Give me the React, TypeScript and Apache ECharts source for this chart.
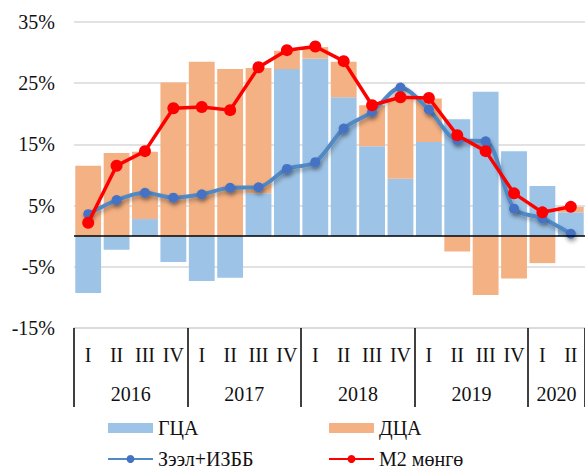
import React, { useEffect, useRef } from "react";
import * as echarts from "echarts";

const quarters = ["I", "II", "III", "IV", "I", "II", "III", "IV", "I", "II", "III", "IV", "I", "II", "III", "IV", "I", "II"];
const years = ["2016", "2017", "2018", "2019", "2020"];
const quartersPerYear = [4, 4, 4, 4, 2];

const gca = [-9.3, -2.2, 2.8, -4.2, -7.3, -6.8, 7.0, 27.3, 29.0, 22.7, 14.7, 9.4, 15.4, 19.1, 23.6, 13.9, 8.2, 3.9];
const dca = [11.5, 13.6, 11.0, 25.1, 28.5, 27.3, 20.5, 3.0, 1.9, 5.8, 6.7, 13.1, 7.1, -2.5, -9.6, -6.9, -4.4, 0.9];
const zeel = [3.6, 5.9, 7.1, 6.3, 6.85, 7.9, 8.0, 11.0, 12.1, 17.6, 20.3, 24.3, 20.7, 15.7, 15.5, 4.5, 2.9, 0.4];
const m2 = [2.2, 11.5, 13.9, 20.9, 21.1, 20.6, 27.6, 30.4, 31.0, 28.6, 21.4, 22.7, 22.6, 16.5, 13.9, 7.0, 3.9, 4.8];

const yTicks = [-15, -5, 5, 15, 25, 35];

const FONT = "Liberation Serif";

export default function App() {
  const ref = useRef<HTMLDivElement>(null);
  useEffect(() => {
    document.body.style.margin = "0";
    if (!ref.current) return;
    const chart = echarts.init(ref.current, undefined, { renderer: "svg" });

    const bounds: number[] = [0];
    const centers: number[] = [];
    quartersPerYear.forEach((n) => {
      const start = bounds[bounds.length - 1];
      centers.push(start + n / 2);
      bounds.push(start + n);
    });

    const legendBase = {
      orient: "vertical",
      top: 418,
      height: 52,
      padding: 0,
      itemWidth: 45,
      itemHeight: 10,
      itemGap: 11,
      textStyle: { fontFamily: FONT, fontSize: 20, color: "#111" },
    };

    chart.setOption({
      animation: false,
      textStyle: { fontFamily: FONT },
      grid: { left: 74, right: -2, top: 22, height: 306, containLabel: false },
      legend: [
        { ...legendBase, left: 107, data: [{ name: "ГЦА", icon: "rect" }, { name: "Зээл+ИЗББ" }] },
        { ...legendBase, left: 328, data: [{ name: "ДЦА", icon: "rect" }, { name: "M2 мөнгө" }] },
      ],
      xAxis: [
        {
          type: "category",
          data: quarters,
          position: "bottom",
          axisLine: { show: false },
          axisTick: { show: false },
          axisLabel: { fontFamily: FONT, fontSize: 20, color: "#111", margin: 17, interval: 0 },
          splitLine: { show: false },
        },
        {
          type: "value",
          min: 0,
          max: bounds[bounds.length - 1],
          position: "bottom",
          axisLine: { show: true, lineStyle: { color: "#d9d9d9", width: 1.5 } },
          axisTick: {
            show: true,
            customValues: bounds,
            length: 79,
            lineStyle: { color: "#000", width: 1.5 },
          },
          axisLabel: {
            customValues: centers,
            fontFamily: FONT,
            fontSize: 20,
            color: "#111",
            margin: 56,
            formatter: (v: number) => {
              const i = centers.findIndex((c) => Math.abs(c - v) < 1e-6);
              return i >= 0 ? years[i] : "";
            },
          },
          splitLine: { show: false },
        },
      ],
      yAxis: {
        type: "value",
        min: yTicks[0],
        max: yTicks[yTicks.length - 1],
        interval: 10,
        axisLine: { show: false },
        axisTick: { show: false },
        axisLabel: {
          formatter: (v: number) => v + "%",
          fontFamily: FONT,
          fontSize: 20,
          color: "#111",
          margin: 19,
        },
        splitLine: { show: true, lineStyle: { color: "#d9d9d9", width: 1.5 } },
      },
      series: [
        {
          name: "ГЦА",
          type: "bar",
          stack: "a",
          xAxisIndex: 0,
          data: gca,
          barCategoryGap: "9%",
          itemStyle: { color: "#9DC3E6" },
          markLine: {
            silent: true,
            symbol: "none",
            label: { show: false },
            lineStyle: { color: "#000", width: 1.5, type: "solid" },
            data: [{ yAxis: 0 }],
          },
        },
        {
          name: "ДЦА",
          type: "bar",
          stack: "a",
          xAxisIndex: 0,
          data: dca,
          barCategoryGap: "9%",
          itemStyle: { color: "#F4B183" },
        },
        {
          name: "Зээл+ИЗББ",
          type: "line",
          xAxisIndex: 0,
          data: zeel,
          smooth: 0.3,
          symbol: "circle",
          symbolSize: 10,
          itemStyle: {
            color: "#4472C4",
            shadowColor: "rgba(0,0,0,0.35)",
            shadowBlur: 4,
            shadowOffsetX: 1,
            shadowOffsetY: 3,
          },
          lineStyle: {
            color: "#5189C5",
            width: 4,
            shadowColor: "rgba(0,0,0,0.3)",
            shadowBlur: 4,
            shadowOffsetX: 1,
            shadowOffsetY: 3,
          },
          z: 3,
        },
        {
          name: "M2 мөнгө",
          type: "line",
          xAxisIndex: 0,
          data: m2,
          symbol: "circle",
          symbolSize: 12,
          itemStyle: { color: "#FF0000" },
          lineStyle: { color: "#FF0000", width: 3.5 },
          z: 4,
        },
      ],
    });
    return () => chart.dispose();
  }, []);
  return <div ref={ref} style={{ width: 585, height: 470 }} />;
}
